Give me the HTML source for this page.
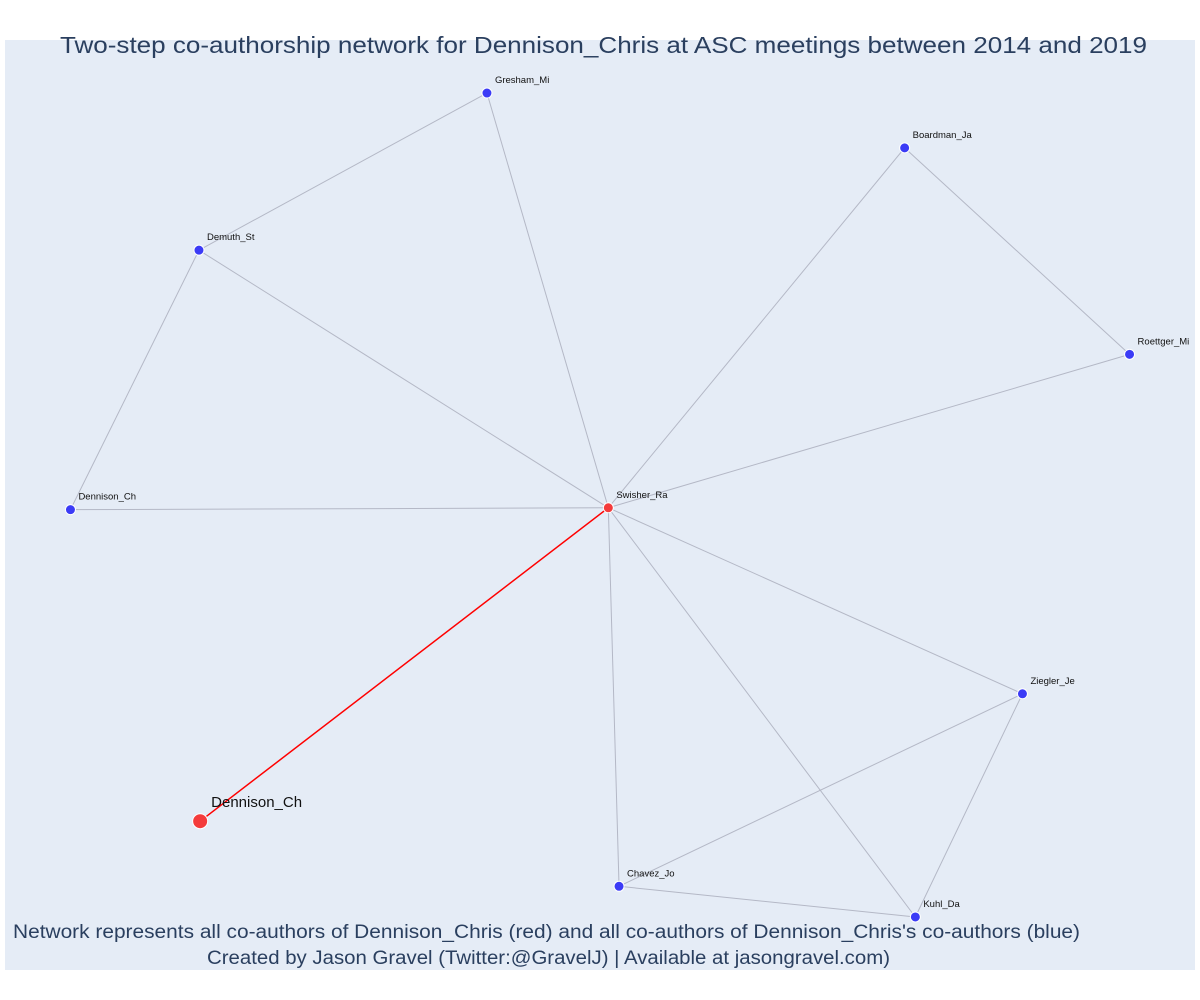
<!DOCTYPE html>
<html><head><meta charset="utf-8"><style>
html,body{margin:0;padding:0;background:#fff;}
svg{display:block;font-family:"Liberation Sans","DejaVu Sans",sans-serif;}
</style></head><body>
<svg id="chart" width="1200" height="1000">
<rect x="5" y="40" width="1190" height="930" fill="#e5ecf6"/>
<g id="edges"></g><g id="nodes"></g><g id="labels"></g>
<text x="60" y="53" textLength="1087" lengthAdjust="spacingAndGlyphs" font-size="23" fill="#2a3f5f">Two-step co-authorship network for Dennison_Chris at ASC meetings between 2014 and 2019</text>
<text x="13" y="938" textLength="1067" lengthAdjust="spacingAndGlyphs" font-size="19" fill="#2a3f5f">Network represents all co-authors of Dennison_Chris (red) and all co-authors of Dennison_Chris's co-authors (blue)</text>
<text x="207" y="964" textLength="683" lengthAdjust="spacingAndGlyphs" font-size="19" fill="#2a3f5f">Created by Jason Gravel (Twitter:@GravelJ) | Available at jasongravel.com)</text>
</svg>
<script>
const names=["Gresham_Mi","Boardman_Ja","Demuth_St","Roettger_Mi","Dennison_Ch","Swisher_Ra","Ziegler_Je","Dennison_Ch","Chavez_Jo","Kuhl_Da"];
const xs=[0.405,0.756,0.163,0.945,0.055,0.507,0.855,0.164,0.516,0.765];
const ys=[0.943,0.884,0.774,0.662,0.495,0.497,0.297,0.160,0.090,0.057];
const kinds=["blue","blue","blue","blue","blue","red","blue","focal","blue","blue"];
const edgeFrom=[0,0,2,2,4,1,1,3,6,9,8,6,6,8,5];
const edgeTo=[2,5,5,4,5,5,3,5,5,5,5,8,9,9,7];
const X=v=>5+v*1190, Y=v=>970-v*930;
const NS="http://www.w3.org/2000/svg";
const eg=document.getElementById('edges'),ng=document.getElementById('nodes'),lg=document.getElementById('labels');
for(let i=0;i<edgeFrom.length;i++){
 const a=edgeFrom[i],b=edgeTo[i];
 const l=document.createElementNS(NS,'line');
 l.setAttribute('x1',X(xs[a]));l.setAttribute('y1',Y(ys[a]));l.setAttribute('x2',X(xs[b]));l.setAttribute('y2',Y(ys[b]));
 const red=kinds[b]==='focal'||kinds[a]==='focal';
 l.setAttribute('stroke',red?'#ff0000':'#b4b8c6');l.setAttribute('stroke-width',red?1.5:1);
 
 
 eg.appendChild(l);
}
for(let i=0;i<names.length;i++){
 const c=document.createElementNS(NS,'circle');
 const k=kinds[i];
 c.setAttribute('cx',X(xs[i]));c.setAttribute('cy',Y(ys[i]));
 c.setAttribute('r',k==='focal'?7.5:5);
 c.setAttribute('fill',k==='blue'?'#3b3bf6':'#f43b3b');
 c.setAttribute('stroke','#fff');c.setAttribute('stroke-width',1);
 
 
 ng.appendChild(c);
 const t=document.createElementNS(NS,'text');
 t.textContent=names[i];
 if(k==='focal'){t.setAttribute('x',X(xs[i])+11);t.setAttribute('y',Y(ys[i])-14);t.setAttribute('font-size',15);}
 else{t.setAttribute('x',X(xs[i])+8);t.setAttribute('y',Y(ys[i])-10);t.setAttribute('font-size',9.5);}
 t.setAttribute('fill','#111');
 
 
 lg.appendChild(t);
}
</script>
</body></html>
